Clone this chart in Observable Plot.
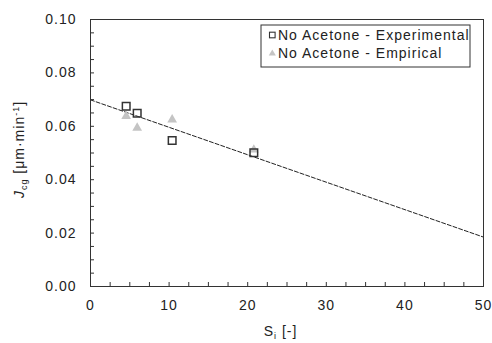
<!DOCTYPE html>
<html>
<head>
<meta charset="utf-8">
<script src="https://cdn.jsdelivr.net/npm/d3@7"></script>
<script src="https://cdn.jsdelivr.net/npm/@observablehq/plot@0.6"></script>
<style>
  html, body { margin: 0; padding: 0; background: #fff; }
  #chart { position: relative; width: 492px; height: 343px; }
  svg { font-family: "Liberation Sans", Arial, sans-serif; letter-spacing: 1px; }
</style>
</head>
<body>
<div id="chart"></div>
<script>
// Data
const expS = [4.54, 5.94, 10.39, 20.78];
const expJ = [0.0675, 0.0649, 0.0547, 0.0501];
const empS = [4.54, 5.94, 10.39, 20.78];
const empJ = [0.0638, 0.0594, 0.0625, 0.0512];
const fitS = [0, 50];
const fitJ = [0.0699, 0.0185];
const xTickLabels = [0, 10, 20, 30, 40, 50];
const yTickLabels = [0, 0.02, 0.04, 0.06, 0.08, 0.10];
const xMinorTicks = d3.range(0, 50.001, 2.5);
const yMinorTicks = d3.range(0, 0.10001, 0.005);
const legendLabels = ["No Acetone - Experimental", "No Acetone - Empirical"];

const W = 492, H = 343;
const mL = 90, mR = 9, mT = 19, mB = 57;
const pW = W - mL - mR, pH = H - mT - mB, tick = 4;

const exp = expS.map((s, i) => ({s, j: expJ[i]}));
const emp = empS.map((s, i) => ({s, j: empJ[i]}));
const fit = fitS.map((s, i) => ({s, j: fitJ[i]}));

const chart = Plot.plot({
  width: W, height: H,
  marginLeft: mL, marginRight: mR, marginTop: mT, marginBottom: mB,
  style: {fontFamily: '"Liberation Sans", Arial, sans-serif', fontSize: "14px", letterSpacing: "1px", color: "#222", background: "#fff"},
  x: {domain: [0, 50]},
  y: {domain: [0, 0.10]},
  marks: [
    Plot.axisX(xTickLabels, {tickSize: 0, tickPadding: 14, label: null, tickFormat: d3.format("d"), fill: "#222"}),
    Plot.axisY(yTickLabels, {tickSize: 0, tickPadding: 14, label: null, tickFormat: d3.format(".2f"), fill: "#222"}),
    Plot.tickX(xMinorTicks, {x: d => d, insetTop: pH - tick, stroke: "#333"}),
    Plot.tickY(yMinorTicks, {y: d => d, insetRight: pW - tick, stroke: "#333"}),
    Plot.line(fit, {x: "s", y: "j", stroke: "#222", strokeWidth: 1, strokeDasharray: "4,2"}),
    Plot.dot(emp, {x: "s", y: "j", symbol: "triangle", r: 3.6, fill: "#c4c4c4", stroke: "none"}),
    Plot.dot(exp, {x: "s", y: "j", symbol: "square", r: 4.3, fill: "none", stroke: "#333", strokeWidth: 1.5}),
    Plot.frame({stroke: "#333", strokeWidth: 1})
  ]
});
document.getElementById("chart").appendChild(chart);

const svg = d3.select(chart);
// X axis title: S_i [-]
const xt = svg.append("text")
  .attr("x", mL + pW / 2 - 6)
  .attr("y", 336)
  .attr("text-anchor", "middle")
  .attr("font-size", 14)
  .attr("fill", "#222");
xt.append("tspan").text("S");
xt.append("tspan").attr("font-size", 9).attr("dy", 3).text("i");
xt.append("tspan").attr("dy", -3).text(" [-]");

// Y axis title: J_cg [μm·min^-1]
const yt = svg.append("text")
  .attr("transform", `translate(24,${mT + pH / 2 - 3}) rotate(-90)`)
  .attr("text-anchor", "middle")
  .attr("font-size", 14)
  .attr("fill", "#222");
yt.append("tspan").attr("font-style", "italic").text("J");
yt.append("tspan").attr("font-size", 9).attr("dy", 3).text("cg");
yt.append("tspan").attr("dy", -3).text(" [μm·min");
yt.append("tspan").attr("font-size", 9).attr("dy", -5).text("-1");
yt.append("tspan").attr("dy", 5).text("]");

// Legend box
const lg = svg.append("g");
lg.append("rect").attr("x", 261).attr("y", 25).attr("width", 209).attr("height", 42)
  .attr("fill", "#fff").attr("stroke", "#333").attr("stroke-width", 1);
const rowY = [35, 53];
lg.append("rect").attr("x", 269.5).attr("y", rowY[0] - 2.8).attr("width", 5.6).attr("height", 5.6)
  .attr("fill", "none").attr("stroke", "#333").attr("stroke-width", 1.1);
lg.append("path").attr("d", d3.symbol(d3.symbolTriangle, 22)()).attr("transform", `translate(272.3,${rowY[1] + 0.5})`)
  .attr("fill", "#c4c4c4");
legendLabels.forEach((t, i) => {
  lg.append("text").attr("x", 278).attr("y", rowY[i] + 5).attr("text-anchor", "start")
    .attr("font-size", 14).attr("fill", "#222").text(t);
});
</script>
</body>
</html>
